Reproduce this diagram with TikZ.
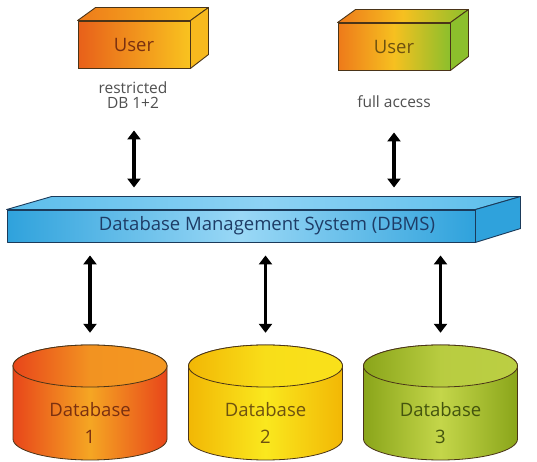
\documentclass[tikz,border=0pt]{standalone}
\usepackage{fontspec}
\setmainfont{Open Sans}
\usetikzlibrary{arrows.meta,calc}
\definecolor{outl}{HTML}{4A3418}
\definecolor{navy}{HTML}{1B3A5A}
\definecolor{uA}{HTML}{E8601A}
\definecolor{uB}{HTML}{F9C31F}
\definecolor{uG}{HTML}{8CBF2C}
\definecolor{uO}{HTML}{EE7A1A}
\definecolor{uM}{HTML}{F6C020}
\definecolor{dbA}{HTML}{2FA2DC}
\definecolor{dbB}{HTML}{9AD8F6}
\definecolor{dbT}{HTML}{5BBDEB}
\definecolor{dbtxt}{HTML}{1E3C66}
\definecolor{oA}{HTML}{E8461A}
\definecolor{oB}{HTML}{F5A623}
\definecolor{yA}{HTML}{F2B705}
\definecolor{yB}{HTML}{FAE81E}
\definecolor{gA}{HTML}{8AA51A}
\definecolor{gB}{HTML}{C4D64A}
\definecolor{tO}{HTML}{7A3010}
\definecolor{tY}{HTML}{6E5210}
\definecolor{tG}{HTML}{44540E}
\definecolor{lblc}{HTML}{505050}
\begin{document}
\begin{tikzpicture}[x=1pt,y=1pt,
  userbox/.style={draw=outl, line width=0.9pt, minimum width=112pt, minimum height=47pt, inner sep=0pt, font=\fontsize{18.5}{22}\selectfont},
  face/.style={draw=outl, line width=0.9pt, line join=round},
  bface/.style={draw=navy, line width=0.9pt, line join=round},
  lbl/.style={text=lblc, font=\fontsize{15.5}{15}\selectfont, align=center},
  dar/.style={line width=3.6pt, {Triangle[length=9pt,width=13pt]}-{Triangle[length=9pt,width=13pt]}},
  cylline/.style={draw=outl, line width=0.8pt},
  dbtext/.style={font=\fontsize{18.5}{27}\selectfont, align=center}
]
\useasboundingbox[fill=white] (0,0) rectangle (537,462);

% User boxes
\node[userbox, left color=uA, right color=uB, text=tO] (u1) at (134,417.5) {User};
\draw[face, left color=uO, right color=uB] (u1.north west) -- ++(18,13) -- ($(u1.north east)+(18,13)$) -- (u1.north east) -- cycle;
\draw[face, fill=uB!90!uA] (u1.north east) -- ++(18,13) -- ++(0,-47) -- (u1.south east) -- cycle;

\node[userbox, left color=uO, right color=uG, middle color=uM, text=tY] (u2) at (394,415.5) {User};
\draw[face, left color=uO, right color=uG, middle color=uM] (u2.north west) -- ++(18,13) -- ($(u2.north east)+(18,13)$) -- (u2.north east) -- cycle;
\draw[face, fill=uG] (u2.north east) -- ++(18,13) -- ++(0,-47) -- (u2.south east) -- cycle;

\node[lbl] (l1) at (133,367) {restricted\\DB 1+2};
\node[lbl] (l2) at (394,360) {full access};

% DBMS bar
\node[bface, minimum width=468pt, minimum height=32pt, inner sep=0pt, left color=dbA, right color=dbA, middle color=dbB] (dbms) at (241,236) {};
\draw[bface, left color=dbT, right color=dbT, middle color=dbB!80!dbT] (dbms.north west) -- ++(45,13) -- ($(dbms.north east)+(45,13)$) -- (dbms.north east) -- cycle;
\draw[bface, fill=dbA] (dbms.north east) -- ++(45,13) -- ++(0,-32) -- (dbms.south east) -- cycle;
\node[text=dbtxt, font=\fontsize{18.5}{20}\selectfont] (dbmsl) at (267,236) {Database Management System (DBMS)};

% arrows users - DBMS
\draw[dar, shorten <=62pt, shorten >=22pt] (u1.south) -- (u1.south |- dbms.north);
\draw[dar, shorten <=62pt, shorten >=22pt] (u2.south) -- (u2.south |- dbms.north);

% Databases
\foreach \cx/\ca/\cb/\tc/\n/\nm in {90/oA/oB/tO/1/db1, 265.5/yA/yB/tY/2/db2, 440.5/gA/gB/tG/3/db3}{
  \node[inner sep=0pt, minimum width=154pt, minimum height=115pt] (\nm) at (\cx,59.5) {};
  \draw[cylline, left color=\ca, right color=\ca, middle color=\cb]
    (\cx-77,96) -- (\cx-77,23) arc[start angle=180, end angle=360, x radius=77, y radius=21]
    -- (\cx+77,96) arc[start angle=0, end angle=180, x radius=77, y radius=21] -- cycle;
  \draw[cylline, left color=\ca, right color=\cb!85!\ca, middle color=\cb!80!\ca] (\cx,96) ellipse[x radius=77, y radius=21];
  \node[dbtext, text=\tc] (\nm t) at (\cx,39) {Database\\\n};
  \draw[dar, shorten <=13pt, shorten >=12pt] (dbms.south -| \nm) -- (\nm.north);
}
\end{tikzpicture}
\end{document}
